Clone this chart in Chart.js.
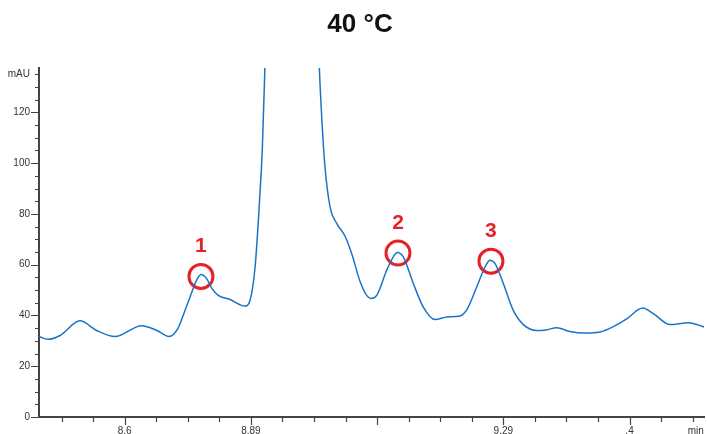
<!DOCTYPE html>
<html>
<head>
<meta charset="utf-8">
<script src="https://cdn.jsdelivr.net/npm/chart.js@4.4.1/dist/chart.umd.min.js"></script>
<style>
  html, body { margin: 0; padding: 0; background: #fff; overflow: hidden; }
  #wrap { width: 707px; height: 434px; position: relative; }
  canvas { display: block; }
</style>
</head>
<body>
<div id="wrap"><canvas id="chart" width="707" height="434"></canvas></div>
<script>
'use strict';
const chartTitle = '40 °C';

// trace (min / mAU); main peak apex is off-scale
const timeMin = [8.4643, 8.4784, 8.4975, 8.5292, 8.5556, 8.5846, 8.6269, 8.6512, 8.6702, 8.6845,
  8.6956, 8.7035, 8.7141, 8.7209, 8.73, 8.7383, 8.7483, 8.7669, 8.7906, 8.7986,
  8.8065, 8.8117, 8.8144, 8.8181, 8.8223, 8.8271, 8.8651, 8.9032, 8.9084, 8.9122,
  8.9174, 8.9254, 8.936, 8.9491, 8.9597, 8.9729, 8.9835, 8.9903, 8.9994, 9.0152,
  9.0257, 9.032, 9.0415, 9.0574, 9.0732, 9.0918, 9.1108, 9.1314, 9.1425, 9.1578,
  9.171, 9.1789, 9.1868, 9.2, 9.2158, 9.2317, 9.2529, 9.2677, 9.2846, 9.3057,
  9.3295, 9.3532, 9.3743, 9.3956, 9.4209, 9.4377, 9.4642, 9.4932, 9.5197];
const signalMAU = [31.7, 30.6, 32.1, 37.9, 34.1, 31.7, 36.0, 34.1, 31.7, 34.9,
  42.0, 47.2, 53.9, 56.1, 54.5, 50.7, 47.9, 46.3, 43.7, 45.9,
  58.6, 76.5, 88.0, 105.3, 138.3, 180, 480, 180, 138.3, 118.5,
  98.7, 82.9, 76.3, 71.3, 64.4, 53.5, 47.9, 46.7, 47.9, 57.8,
  63.1, 64.8, 63.1, 52.6, 43.3, 38.4, 39.4, 39.8, 42.4, 51.2,
  59.1, 61.8, 60.5, 52.6, 42.0, 36.4, 34.1, 34.3, 35.2, 33.7,
  33.1, 33.5, 35.6, 38.7, 42.9, 40.7, 36.4, 37.1, 35.4];

// marked peaks
const peakTime   = [8.7209, 9.0331, 9.1804];
const peakMAU    = [55.4, 64.6, 61.4];
const peakLabels = ['1', '2', '3'];

// axes
const xTickVals   = [8.5, 8.55, 8.6, 8.65, 8.7, 8.75, 8.8, 8.85, 8.9, 8.95, 9.0,
  9.05, 9.1, 9.15, 9.2, 9.25, 9.3, 9.35, 9.4, 9.45, 9.5];
const xMajorVals  = [8.6, 8.8, 9.0, 9.2, 9.4];
const xLabelVals  = [8.6, 8.8, 9.2, 9.4, 9.505];
const xLabelText  = ['8.6', '8.89', '9.29', '.4', 'min'];
const yTickVals   = [0, 5, 10, 15, 20, 25, 30, 35, 40, 45, 50, 55, 60, 65, 70,
  75, 80, 85, 90, 95, 100, 105, 110, 115, 120, 125, 130, 135];
const yLabelVals  = [0, 20, 40, 60, 80, 100, 120, 135];
const yLabelText  = ['0', '20', '40', '60', '80', '100', '120', 'mAU'];

const LINE_BLUE = '#1a74c6';
const PEAK_RED  = '#e52228';
const AXIS_GRAY = '#444';
const FONT_FAMILY = '"Liberation Sans", Arial, sans-serif';

const near = (a, b) => Math.abs(a - b) < 1e-6;
const labelFor = (vals, text, v) => { const i = vals.findIndex(t => near(t, v)); return i < 0 ? '' : text[i]; };

const decorPlugin = {
  id: 'decor',
  afterDraw(chart) {
    const { ctx, chartArea: a, scales: { x, y } } = chart;
    ctx.save();
    // tick marks, major longer than minor
    ctx.strokeStyle = AXIS_GRAY;
    ctx.lineWidth = 1.2;
    ctx.beginPath();
    xTickVals.forEach(v => {
      const px = Math.round(x.getPixelForValue(v)) + 0.5;
      const len = xMajorVals.some(m => near(m, v)) ? 8 : 5;
      ctx.moveTo(px, a.bottom); ctx.lineTo(px, a.bottom + len);
    });
    yTickVals.forEach(v => {
      const py = Math.round(y.getPixelForValue(v)) + 0.5;
      const len = v % 20 === 0 ? 8 : 4;
      ctx.moveTo(a.left - len, py); ctx.lineTo(a.left, py);
    });
    ctx.stroke();

    // x labels (drawn here so chart.js adds no side padding for them)
    ctx.fillStyle = '#333';
    ctx.font = '10px ' + FONT_FAMILY;
    ctx.textAlign = 'center';
    ctx.textBaseline = 'middle';
    xLabelVals.forEach((v, i) => ctx.fillText(xLabelText[i], x.getPixelForValue(v), a.bottom + 14));

    // title
    ctx.fillStyle = '#111';
    ctx.font = 'bold 26px ' + FONT_FAMILY;
    ctx.fillText(chartTitle, 360, 25);

    // peak numbers
    ctx.fillStyle = PEAK_RED;
    ctx.font = 'bold 21px ' + FONT_FAMILY;
    peakTime.forEach((t, i) => {
      ctx.fillText(peakLabels[i], x.getPixelForValue(t), y.getPixelForValue(peakMAU[i]) - 30);
    });
    ctx.restore();
  },
};

new Chart(document.getElementById('chart'), {
  type: 'line',
  data: {
    datasets: [
      {
        data: timeMin.map((t, i) => ({ x: t, y: signalMAU[i] })),
        borderColor: LINE_BLUE,
        borderWidth: 1.5,
        pointRadius: 0,
        cubicInterpolationMode: 'monotone',
        fill: false,
      },
      {
        data: peakTime.map((t, i) => ({ x: t, y: peakMAU[i] })),
        showLine: false,
        pointRadius: 12,
        pointBorderWidth: 3,
        pointBorderColor: PEAK_RED,
        pointBackgroundColor: 'rgba(0,0,0,0)',
      },
    ],
  },
  options: {
    responsive: false,
    devicePixelRatio: 1,
    animation: false,
    events: [],
    layout: { autoPadding: false, padding: { top: 68, right: 3, left: 0, bottom: 0 } },
    plugins: { legend: { display: false }, tooltip: { enabled: false }, title: { display: false } },
    scales: {
      x: {
        type: 'linear',
        min: 8.4643,
        max: 9.518,
        afterFit: s => { s.height = 17; },
        grid: { display: false, drawTicks: false },
        border: { display: true, color: AXIS_GRAY, width: 2 },
        ticks: { display: false },
      },
      y: {
        min: 0,
        max: 137.5,
        afterBuildTicks: s => { s.ticks = yTickVals.map(v => ({ value: v })); },
        afterFit: s => { s.width = 39; s.paddingTop = 0; s.paddingBottom = 0; },
        grid: { display: false, drawTicks: false },
        border: { display: true, color: AXIS_GRAY, width: 2 },
        ticks: {
          autoSkip: false, padding: 9,
          color: '#333',
          font: { family: FONT_FAMILY, size: 10 },
          callback: v => labelFor(yLabelVals, yLabelText, v),
        },
      },
    },
  },
  plugins: [decorPlugin],
});
</script>
</body>
</html>
